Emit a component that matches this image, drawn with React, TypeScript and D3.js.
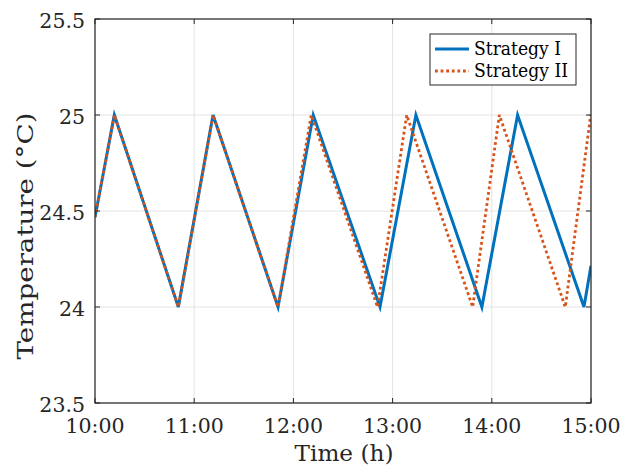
import React from "react";
import * as d3 from "d3";

const xTicks = [10, 11, 12, 13, 14, 15];
const xTickLabels = ["10:00", "11:00", "12:00", "13:00", "14:00", "15:00"];
const yTicks = [23.5, 24, 24.5, 25, 25.5];
const yTickLabels = ["23.5", "24", "24.5", "25", "25.5"];

const strategy1Time = [10, 10.195, 10.84, 11.19, 11.845, 12.2, 12.873, 13.235, 13.9, 14.26, 14.929, 15];
const strategy1Temp = [24.467, 25, 24, 25, 24, 25, 24, 25, 24, 25, 24, 24.215];

const strategy2Time = [10, 10.195, 10.84, 11.19, 11.845, 12.18, 12.848, 13.142, 13.807, 14.076, 14.741, 14.997];
const strategy2Temp = [24.467, 25, 24, 25, 24, 25, 24, 25, 24, 25, 24, 25];

const seriesNames = ["Strategy I", "Strategy II"];

const W = 633, H = 468;
const L = 95, R = 591, T = 19, B = 403;
const FONT = "'DejaVu Serif', serif";

export default function App() {
  const x = d3.scaleLinear().domain([10, 15]).range([L, R]);
  const y = d3.scaleLinear().domain([23.5, 25.5]).range([B, T]);
  const line = d3.line<[number, number]>().x(d => x(d[0])).y(d => y(d[1]));
  const s1 = strategy1Time.map((t, i) => [t, strategy1Temp[i]] as [number, number]);
  const s2 = strategy2Time.map((t, i) => [t, strategy2Temp[i]] as [number, number]);
  const tl = 5;
  return (
    <svg width={W} height={H} style={{ position: "absolute", left: 0, top: 0, background: "#fff" }}>
      <rect x={0} y={0} width={W} height={H} fill="#fff" />
      {xTicks.map(t => (
        <line key={"gx" + t} x1={x(t)} x2={x(t)} y1={T} y2={B} stroke="#e3e3e3" strokeWidth={1} />
      ))}
      {yTicks.map(t => (
        <line key={"gy" + t} x1={L} x2={R} y1={y(t)} y2={y(t)} stroke="#e3e3e3" strokeWidth={1} />
      ))}
      <defs>
        <clipPath id="clip"><rect x={L} y={T - 3} width={R - L} height={B - T + 6} /></clipPath>
      </defs>
      <g clipPath="url(#clip)">
        <path d={line(s1) || ""} fill="none" stroke="#0072BD" strokeWidth={3} strokeLinejoin="miter" />
        <path d={line(s2) || ""} fill="none" stroke="#D95319" strokeWidth={2.8} strokeDasharray="2.8,2.8" />
      </g>
      {xTicks.map(t => (
        <g key={"tx" + t}>
          <line x1={x(t)} x2={x(t)} y1={B} y2={B - tl} stroke="#262626" />
          <line x1={x(t)} x2={x(t)} y1={T} y2={T + tl} stroke="#262626" />
        </g>
      ))}
      {yTicks.map(t => (
        <g key={"ty" + t}>
          <line x1={L} x2={L + tl} y1={y(t)} y2={y(t)} stroke="#262626" />
          <line x1={R} x2={R - tl} y1={y(t)} y2={y(t)} stroke="#262626" />
        </g>
      ))}
      <rect x={L} y={T} width={R - L} height={B - T} fill="none" stroke="#262626" strokeWidth={1.2} />
      {xTicks.map((t, i) => (
        <text key={"lx" + t} x={x(t)} y={B + 30} textAnchor="middle" fontFamily={FONT} fontSize={20.5} fill="#262626">
          {xTickLabels[i]}
        </text>
      ))}
      {yTicks.map((t, i) => (
        <text key={"ly" + t} x={L - 10} y={y(t) + 9} textAnchor="end" fontFamily={FONT} fontSize={20.5} fill="#262626">
          {yTickLabels[i]}
        </text>
      ))}
      <text x={(L + R) / 2 + 1} y={461} textAnchor="middle" fontFamily={FONT} fontSize={23} fill="#262626"
        textLength={99} lengthAdjust="spacingAndGlyphs">Time (h)</text>
      <text transform={`translate(33,${(T + B) / 2 + 25}) rotate(-90)`} textAnchor="middle" fontFamily={FONT} fontSize={23} fill="#262626"
        textLength={247} lengthAdjust="spacingAndGlyphs">
        Temperature (°C)
      </text>
      <g>
        <rect x={430} y={34} width={146} height={51} fill="#fff" stroke="#262626" strokeWidth={1} />
        <line x1={435} x2={469} y1={49} y2={49} stroke="#0072BD" strokeWidth={3} />
        <line x1={435} x2={469} y1={71} y2={71} stroke="#D95319" strokeWidth={2.8} strokeDasharray="2.8,2.8" />
        <text x={474} y={55} fontFamily={FONT} fontSize={18} fill="#000" textLength={87} lengthAdjust="spacingAndGlyphs">{seriesNames[0]}</text>
        <text x={474} y={77} fontFamily={FONT} fontSize={18} fill="#000" textLength={94} lengthAdjust="spacingAndGlyphs">{seriesNames[1]}</text>
      </g>
    </svg>
  );
}
